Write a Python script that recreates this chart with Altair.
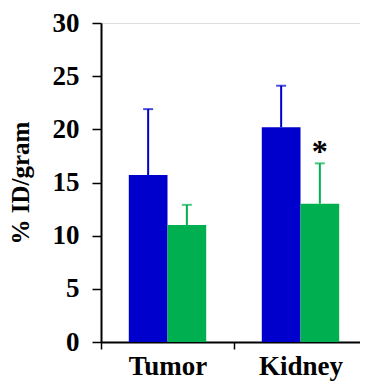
import altair as alt
import pandas as pd

organs = ["Tumor", "Kidney"]
series = ["Series 1", "Series 2"]
means_s1 = [15.7, 20.2]
means_s2 = [11.0, 13.0]
errors_s1 = [6.2, 3.9]
errors_s2 = [1.9, 3.8]
stars_s1 = ["", ""]
stars_s2 = ["", "*"]
colors = ["#0000CC", "#00B050"]
y_ticks = [0, 5, 10, 15, 20, 25, 30]

FONT = "Liberation Serif"

rows = []
for s, m, e, st in [(series[0], means_s1, errors_s1, stars_s1),
                    (series[1], means_s2, errors_s2, stars_s2)]:
    for i, o in enumerate(organs):
        rows.append(dict(organ=o, series=s, mean=m[i], top=m[i] + e[i], star=st[i]))
df = pd.DataFrame(rows)

x = alt.X(
    "organ:N", sort=organs,
    scale=alt.Scale(paddingInner=0, paddingOuter=0, range=[0, 266]),
    axis=alt.Axis(title=None, labelFont=FONT, labelFontSize=27, labelFontWeight="bold",
                  labelColor="black", labelAngle=0, tickBand="extent", tickSize=7,
                  tickColor="black", tickWidth=1.5, domainColor="black", domainWidth=2,
                  labelBaseline="alphabetic", labelPadding=25, grid=False),
)
xo = alt.XOffset("series:N", sort=series, scale=alt.Scale(paddingInner=0, paddingOuter=0.718))
color = alt.Color("series:N", sort=series, scale=alt.Scale(domain=series, range=colors), legend=None)
yaxis = alt.Axis(values=y_ticks, title="% ID/gram", titleFont=FONT, titleFontSize=25,
                 titleFontWeight="bold", titleColor="black", titleAngle=-90,
                 titleX=-81, titleY=159.5, titleAlign="center", titleBaseline="middle",
                 labelFont=FONT, labelFontSize=27, labelFontWeight="bold", labelColor="black",
                 labelPadding=13, tickSize=9, tickWidth=1.5, tickColor="black",
                 domainColor="black", domainWidth=2, grid=False)
yscale = alt.Scale(domain=[0, 30], nice=False, zero=True)

base = alt.Chart(df)
bars = base.mark_bar().encode(
    x=x, xOffset=xo, color=color,
    y=alt.Y("mean:Q", scale=yscale, axis=yaxis),
)
rules = base.mark_rule(strokeWidth=2).encode(
    x=x, xOffset=xo, color=color,
    y=alt.Y("mean:Q", scale=yscale, axis=yaxis), y2="top:Q",
)
caps = base.mark_tick(size=10, thickness=2).encode(
    x=x, xOffset=xo, color=color,
    y=alt.Y("top:Q", scale=yscale, axis=yaxis),
)
stars = base.mark_text(font=FONT, fontSize=32, fontWeight="bold", color="black",
                       baseline="middle", dy=-11).encode(
    x=x, xOffset=xo,
    y=alt.Y("top:Q", scale=yscale, axis=yaxis),
    text="star:N",
)

chart = alt.layer(bars, rules, caps, stars).properties(
    width=259, height=319,
    autosize=alt.AutoSizeParams(type="none"),
    padding={"left": 93, "top": 15, "right": 0, "bottom": 40},
).configure_view(stroke=None).configure(background="white")

chart.save("out.html", embed_options={"renderer": "svg", "actions": False})
